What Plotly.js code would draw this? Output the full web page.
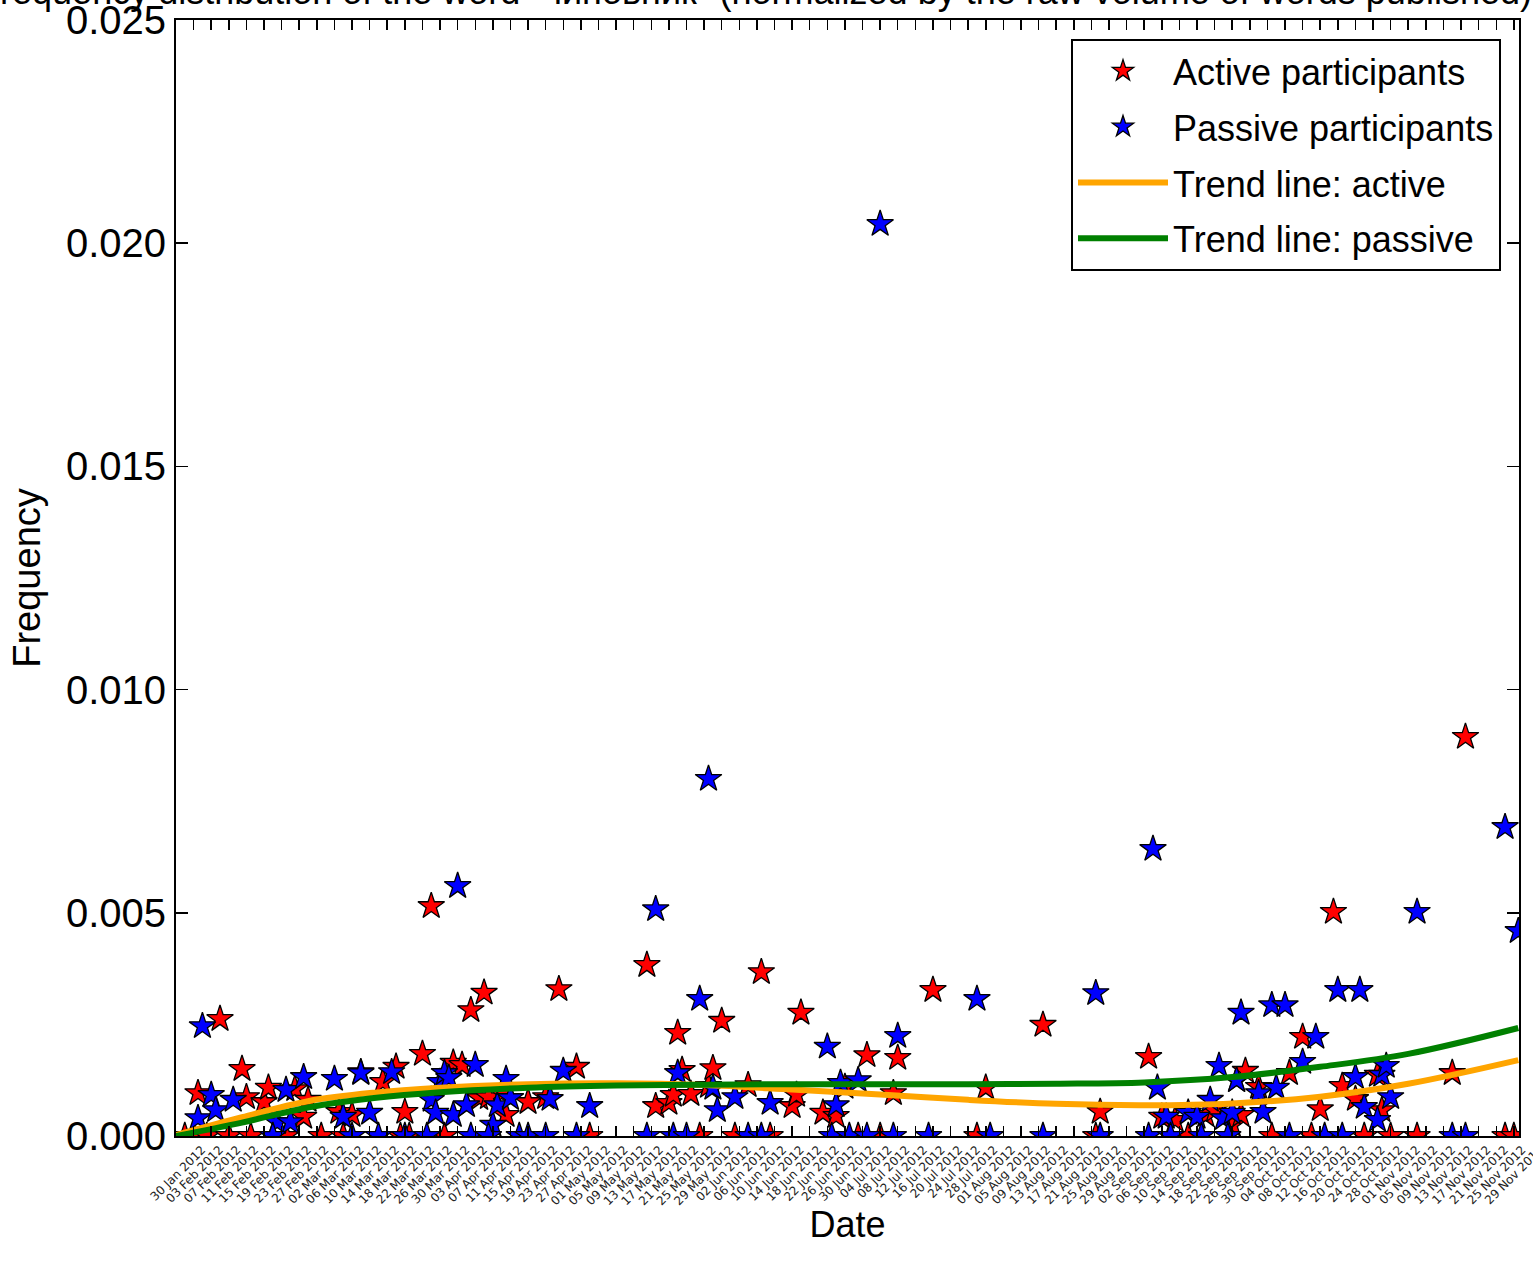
<!DOCTYPE html>
<html>
<head>
<meta charset="utf-8">
<script src="https://cdn.plot.ly/plotly-3.0.1.min.js"></script>
<style>html,body{margin:0;padding:0;background:#fff;}#chart{width:1533px;height:1268px;}</style>
</head>
<body>
<div id="chart"></div>
<script>
// ---- data ----
const activeDates = [
'2012-02-04','2012-02-09','2012-02-14','2012-02-15','2012-02-19','2012-02-20','2012-02-26','2012-02-28','2012-02-29',
'2012-03-07','2012-03-10','2012-03-12','2012-03-17','2012-03-20','2012-03-22','2012-03-26','2012-03-28',
'2012-04-02','2012-04-04','2012-04-06','2012-04-08','2012-04-09','2012-04-10','2012-04-13','2012-04-14','2012-04-19','2012-04-23','2012-04-26','2012-04-30',
'2012-05-16','2012-05-18','2012-05-21','2012-05-22','2012-05-23','2012-05-24','2012-05-26','2012-05-30','2012-05-31',
'2012-06-02','2012-06-08','2012-06-11','2012-06-18','2012-06-19','2012-06-20','2012-06-25','2012-06-28','2012-06-30',
'2012-07-05','2012-07-11','2012-07-12','2012-07-20',
'2012-08-01','2012-08-14','2012-08-27',
'2012-09-07','2012-09-10','2012-09-13','2012-09-20','2012-09-22','2012-09-26','2012-09-27','2012-09-28','2012-09-29',
'2012-10-02','2012-10-09','2012-10-12','2012-10-16','2012-10-19','2012-10-21','2012-10-24','2012-10-29','2012-10-30',
'2012-11-15','2012-11-18',
// days with zero frequency
'2012-02-01','2012-02-03','2012-02-06','2012-02-11','2012-02-16','2012-02-24','2012-03-03','2012-03-08','2012-03-21','2012-03-23','2012-03-31',
'2012-05-03','2012-05-28','2012-06-05','2012-06-13','2012-07-03','2012-07-08','2012-07-30','2012-08-26','2012-09-16',
'2012-10-05','2012-10-14','2012-10-26','2012-11-01','2012-11-07','2012-11-27','2012-11-29'
];
const activeValues = [
0.00096,0.00262,0.0015,0.00087,0.00076,0.00108,0.00105,0.00043,0.00081,
0.00054,0.00047,0.00143,0.00121,0.00155,0.00054,0.00184,0.00515,
0.00164,0.00159,0.00282,0.00085,0.00321,0.00087,0.00096,0.00047,0.00076,0.00087,0.00329,0.00155,
0.00383,0.00067,0.00074,0.00092,0.00231,0.00148,0.00094,0.00112,0.00152,
0.00258,0.00114,0.00367,0.00067,0.00092,0.00276,0.00052,0.00045,0.0011,
0.00181,0.00096,0.00175,0.00327,
0.00108,0.00249,0.00054,
0.00177,0.00043,0.00036,0.00047,0.00058,0.00025,0.00125,0.00047,0.00146,
0.0011,0.00141,0.00222,0.0006,0.00502,0.00112,0.00083,0.00137,0.00058,
0.00141,0.00894,
0,0,0,0,0,0,0,0,0,0,0,
0,0,0,0,0,0,0,0,0,
0,0,0,0,0,0,0
];
const passiveDates = [
'2012-02-04','2012-02-05','2012-02-07','2012-02-08','2012-02-12','2012-02-22','2012-02-24','2012-02-25','2012-02-28',
'2012-03-06','2012-03-08','2012-03-12','2012-03-14','2012-03-19','2012-03-28','2012-03-29','2012-03-30','2012-03-31',
'2012-04-01','2012-04-02','2012-04-03','2012-04-05','2012-04-07','2012-04-11','2012-04-12','2012-04-14','2012-04-15','2012-04-24','2012-04-27',
'2012-05-03','2012-05-18','2012-05-23','2012-05-28','2012-05-30','2012-05-31',
'2012-06-01','2012-06-05','2012-06-13','2012-06-26','2012-06-28','2012-06-29',
'2012-07-03','2012-07-08','2012-07-12','2012-07-30',
'2012-08-26',
'2012-09-08','2012-09-09','2012-09-11','2012-09-16','2012-09-18','2012-09-21','2012-09-23','2012-09-24','2012-09-26','2012-09-27','2012-09-28',
'2012-10-02','2012-10-03','2012-10-05','2012-10-06','2012-10-08','2012-10-12','2012-10-15','2012-10-20','2012-10-24','2012-10-25','2012-10-26','2012-10-29','2012-10-30','2012-10-31',
'2012-11-01','2012-11-07','2012-11-27','2012-11-30',
// days with zero frequency
'2012-02-21','2012-03-10','2012-03-16','2012-03-22','2012-03-27','2012-04-06','2012-04-10','2012-04-17','2012-04-19','2012-04-23','2012-04-30',
'2012-05-16','2012-05-22','2012-05-25','2012-06-08','2012-06-11','2012-06-27','2012-07-01','2012-07-05','2012-07-11','2012-07-19',
'2012-08-02','2012-08-14','2012-08-27','2012-09-07','2012-09-12','2012-09-19','2012-09-25','2012-10-09','2012-10-17','2012-10-21','2012-11-15','2012-11-18'
];
const passiveValues = [
0.0004,0.00246,0.00092,0.00058,0.00081,0.00031,0.00103,0.00031,0.00132,
0.00128,0.00043,0.00141,0.00052,0.00143,0.00081,0.00052,0.00121,0.00141,
0.0013,0.00047,0.0056,0.00069,0.00159,0.00025,0.00069,0.00128,0.00085,0.00083,0.00146,
0.00067,0.00508,0.00141,0.00307,0.008,0.00108,
0.00058,0.00087,0.00074,0.002,0.00069,0.00119,
0.00125,0.02043,0.00224,0.00307,
0.0032,
0.00643,0.00108,0.00043,0.00052,0.00043,0.00081,0.00157,0.0004,0.00052,0.00125,0.00276,
0.00096,0.00054,0.00293,0.00108,0.00293,0.00166,0.00222,0.00327,0.00132,0.00327,0.00065,0.00036,0.00137,0.00157,
0.00087,0.00502,0.00692,0.00459,
0,0,0,0,0,0,0,0,0,0,0,
0,0,0,0,0,0,0,0,0,0,
0,0,0,0,0,0,0,0,0,0,0,0
];
const trendDates = ['2012-01-30','2012-02-14','2012-02-29','2012-03-15','2012-03-30','2012-04-19','2012-05-09','2012-05-29','2012-06-18','2012-07-08','2012-07-28','2012-08-17','2012-09-06','2012-09-26','2012-10-16','2012-11-05','2012-11-30'];
const trendActive  = [0.00002,0.00042,0.00078,0.00097,0.00108,0.00116,0.00118,0.00114,0.00104,0.00093,0.00081,0.00072,0.00069,0.00073,0.00088,0.00117,0.0017];
const trendPassive = [0.0,0.0003,0.00064,0.00085,0.00098,0.00108,0.00113,0.00115,0.00116,0.00116,0.00116,0.00117,0.0012,0.00132,0.00155,0.00184,0.00242];
const seriesNames = ['Active participants','Passive participants','Trend line: active','Trend line: passive'];
const titleText = 'Frequency distribution of the word "чиновник" (normalized by the raw volume of words published)';

const starMarker = (c) => ({symbol:'star', size:20, color:c, line:{color:'#000', width:1.3}});
const traces = [
  {x:activeDates, y:activeValues, type:'scatter', mode:'markers', name:seriesNames[0], legendgroup:'a', marker:starMarker('#ff0000')},
  {x:passiveDates, y:passiveValues, type:'scatter', mode:'markers', name:seriesNames[1], legendgroup:'b', marker:starMarker('#0000ff')},
  {x:trendDates, y:trendActive, type:'scatter', mode:'lines', name:seriesNames[2], legendgroup:'c', line:{color:'#ffa500', width:6, shape:'spline'}},
  {x:trendDates, y:trendPassive, type:'scatter', mode:'lines', name:seriesNames[3], legendgroup:'d', line:{color:'#008000', width:6, shape:'spline'}}
];
const layout = {
  width:1533, height:1268,
  margin:{l:176, r:14, t:20, b:132},
  paper_bgcolor:'#fff', plot_bgcolor:'#fff',
  font:{family:'Liberation Sans, Arial, sans-serif', color:'#000', size:36},
  title:{text:titleText, font:{size:36, family:'Liberation Sans, Arial, sans-serif'}, xref:'container', x:0.4925, xanchor:'center', yref:'container', y:0.9965, yanchor:'bottom'},
  showlegend:true,
  legend:{x:0.9866, y:0.983, xanchor:'right', yanchor:'top', bgcolor:'#fff', bordercolor:'#000', borderwidth:2, font:{size:36}, itemwidth:90, tracegroupgap:6},
  xaxis:{type:'date', range:['2012-01-30','2012-11-30 04:00'], tick0:'2012-01-30', dtick:4*86400000, tickformat:'%d %b %Y',
    tickangle:-45, tickfont:{size:12, family:'DejaVu Sans, sans-serif', color:'#222'}, ticklabelshift:26, ticklabeloverflow:'allow',
    ticks:'inside', ticklen:10, tickwidth:1.5, tickcolor:'#000', showline:true, linecolor:'#000', linewidth:2, mirror:'ticks',
    showgrid:false, zeroline:false, title:{text:'Date', font:{size:36}, standoff:4}},
  yaxis:{range:[0,0.0250001], tick0:0, dtick:0.005, tickformat:'.3f', ticks:'inside', ticklen:12, tickwidth:1.5, tickcolor:'#000',
    showline:true, linecolor:'#000', linewidth:2, mirror:'ticks', showgrid:false, zeroline:false, ticklabeloverflow:'allow',
    tickfont:{size:40}, title:{text:'Frequency', font:{size:38}, standoff:14}}
};
Plotly.newPlot('chart', traces, layout, {displayModeBar:false, staticPlot:true});
</script>
</body>
</html>
